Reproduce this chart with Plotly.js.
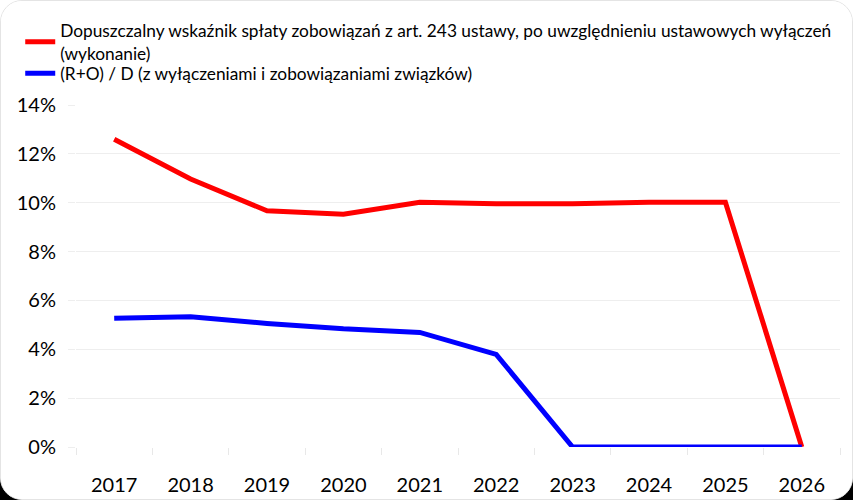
<!DOCTYPE html>
<html>
<head>
<meta charset="utf-8">
<script src="https://cdn.plot.ly/plotly-3.0.1.min.js"></script>
<style>
  html, body { margin: 0; padding: 0; width: 853px; height: 500px; overflow: hidden;
    background: linear-gradient(to bottom, #ffffff 0%, #ffffff 94%, #000000 94%, #000000 100%); }
  #chart { width: 853px; height: 500px; border-radius: 22px; overflow: hidden;
    box-sizing: border-box; border: 1px solid #e4e4e4; background: #fff; }
</style>
</head>
<body>
<div id="chart"></div>
<script>
const years = ['2017','2018','2019','2020','2021','2022','2023','2024','2025','2026'];
const seriesRedName = 'Dopuszczalny wskaźnik spłaty zobowiązań z art. 243 ustawy, po uwzględnieniu ustawowych wyłączeń<br>(wykonanie)';
const seriesRed = [12.6, 10.97, 9.67, 9.53, 10.02, 9.96, 9.96, 10.02, 10.02, 0];
const seriesBlueName = '(R+O) / D (z wyłączeniami i zobowiązaniami związków)';
const seriesBlue = [5.27, 5.33, 5.06, 4.84, 4.69, 3.79, 0, 0, 0, 0];
const yTicks = [0, 2, 4, 6, 8, 10, 12, 14];
const yTickLabels = yTicks.map(v => v + '%');

const traces = [
  { x: years, y: seriesRed, name: seriesRedName, type: 'scatter', mode: 'lines',
    line: { color: '#ff0000', width: 5 }, legend: 'legend' },
  { x: years, y: seriesBlue, name: seriesBlueName, type: 'scatter', mode: 'lines',
    line: { color: '#0000ff', width: 5 }, legend: 'legend2' }
];

const legendFont = { family: 'Liberation Sans Narrow, Lato, sans-serif', size: 17.3, color: '#000' };

const layout = {
  width: 851, height: 498,
  margin: { l: 75, r: 12, t: 99, b: 52 },
  paper_bgcolor: '#ffffff', plot_bgcolor: '#ffffff',
  font: { family: 'Lato, sans-serif', color: '#000000' },
  showlegend: true,
  legend: { x: -0.073, y: 1.27, xanchor: 'left', yanchor: 'top', orientation: 'v',
    font: legendFont, bgcolor: 'rgba(0,0,0,0)', itemwidth: 30 },
  legend2: { x: -0.073, y: 1.145, xanchor: 'left', yanchor: 'top', orientation: 'v',
    font: legendFont, bgcolor: 'rgba(0,0,0,0)', itemwidth: 30 },
  xaxis: { type: 'category', range: [-0.5, 9.5], tickson: 'boundaries', ticks: 'outside', ticklen: 7,
    tickcolor: '#e8e8e8', showgrid: false, showline: false, zeroline: false,
    tickfont: { family: 'Lato, sans-serif', size: 20, color: '#000' }, ticklabelstandoff: 24 },
  yaxis: { range: [0, 14], tickvals: yTicks, ticktext: yTickLabels, ticks: 'outside', ticklen: 7,
    tickcolor: '#eeeeee', gridcolor: '#eeeeee', gridwidth: 1, zeroline: false, showline: false,
    tickfont: { family: 'Lato, sans-serif', size: 20, color: '#000' }, ticklabelstandoff: 8 }
};

Plotly.newPlot('chart', traces, layout, { displayModeBar: false, staticPlot: true });
</script>
</body>
</html>
